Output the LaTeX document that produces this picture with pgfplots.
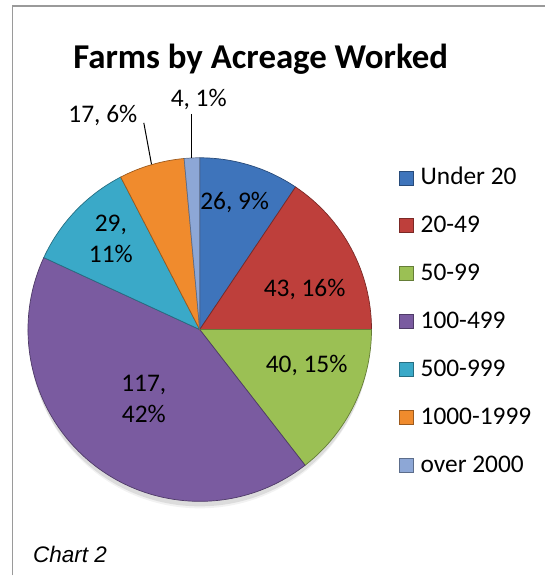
\documentclass[border=0pt]{standalone}
\usepackage{pgfplots}
\usepackage{pgfplotstable}
\pgfplotsset{compat=1.18}
\usepackage{fontspec}
\setmainfont{Carlito}
\newfontfamily\arialfont{Liberation Sans}
\definecolor{cA}{HTML}{3E74BB}
\definecolor{cB}{HTML}{BE3F3B}
\definecolor{cC}{HTML}{9BC054}
\definecolor{cD}{HTML}{7A5BA0}
\definecolor{cE}{HTML}{3AA9C8}
\definecolor{cF}{HTML}{F08B2D}
\definecolor{cG}{HTML}{8DA7D6}
\definecolor{framegray}{HTML}{9A9A9A}

\pgfplotstableread{
name value col
{Under 20} 26 cA
20-49 43 cB
50-99 40 cC
100-499 117 cD
500-999 29 cE
1000-1999 17 cF
{over 2000} 4 cG
}\piedata

\begin{document}
\begin{tikzpicture}
\begin{axis}[hide axis, scale only axis, width=546bp, height=576bp,
  xmin=0, xmax=546, ymin=0, ymax=576, clip=false]
% frame (top and left edges)
\draw[framegray, line width=1.5bp] (axis cs:12.5,0) -- (axis cs:12.5,570) -- (axis cs:546,570);
% title
\node[anchor=base, font=\fontsize{35}{42}\selectfont\bfseries] at (axis cs:261,507) {Farms by Acreage Worked};
% soft shadow (below the pie)
\fill[black, opacity=0.05] (axis cs:200,237) circle[radius=170bp];
\fill[black, opacity=0.09] (axis cs:200,240) circle[radius=171bp];
% pie slices from table
\pgfplotstablegetrowsof{\piedata}
\pgfmathtruncatemacro{\lastrow}{\pgfplotsretval-1}
\def\total{0}
\pgfplotsforeachungrouped \i in {0,...,\lastrow}{%
  \pgfplotstablegetelem{\i}{value}\of\piedata
  \pgfmathsetmacro{\total}{\total+\pgfplotsretval}%
  \xdef\total{\total}%
}
\def\cum{0}
\pgfplotsforeachungrouped \i in {0,...,\lastrow}{%
  \pgfplotstablegetelem{\i}{value}\of\piedata \let\v=\pgfplotsretval
  \pgfplotstablegetelem{\i}{col}\of\piedata \let\c=\pgfplotsretval
  \pgfplotstablegetelem{\i}{name}\of\piedata \let\n=\pgfplotsretval
  \pgfmathsetmacro{\fa}{\cum/\total}%
  \pgfmathsetmacro{\fb}{(\cum+\v)/\total}%
  \pgfmathsetmacro{\a}{90-360*\fa}%
  \pgfmathsetmacro{\b}{90-360*\fb}%
  \pgfmathsetmacro{\px}{200+172*cos(\a)}%
  \pgfmathsetmacro{\py}{246+172*sin(\a)}%
  \pgfmathsetmacro{\ly}{185+48*\i}%
  \pgfmathsetmacro{\ybot}{576-\ly}%
  \pgfmathsetmacro{\ytop}{590-\ly}%
  \edef\temp{%
    \noexpand\fill[\c, draw=\c!65!black, line width=0.7bp]
      (axis cs:200,246) -- (axis cs:\px,\py)
      arc[start angle=\a, end angle=\b, radius=172bp] -- cycle;
    \noexpand\fill[\c, draw=\c!65!black, line width=0.5bp]
      (axis cs:399.5,\ybot) rectangle (axis cs:413.5,\ytop);
    \noexpand\node[anchor=base west, inner sep=0pt, font=\noexpand\fontsize{25.5}{30}\noexpand\selectfont]
      at (axis cs:421,\ybot) {\n};
  }\temp
  \pgfmathsetmacro{\cum}{\cum+\v}%
  \xdef\cum{\cum}%
}
% data labels
\tikzset{lbl/.style={anchor=base, inner sep=0pt, font=\fontsize{25.5}{30}\selectfont}}
\node[lbl] at (axis cs:235,366) {26, 9\%};
\node[lbl] at (axis cs:305,279) {43, 16\%};
\node[lbl] at (axis cs:307,203) {40, 15\%};
\node[lbl] at (axis cs:144,184) {117,};
\node[lbl] at (axis cs:144,153) {42\%};
\node[lbl] at (axis cs:111,344) {29,};
\node[lbl] at (axis cs:111,313) {11\%};
\node[lbl] at (axis cs:103,453) {17, 6\%};
\node[lbl] at (axis cs:199,469) {4, 1\%};
% leader lines
\draw[black, line width=1bp] (axis cs:144,453) -- (axis cs:151.7,411.5);
\draw[black, line width=1bp] (axis cs:192.2,462) -- (axis cs:192.2,418);
% footnote
\node[anchor=base west, inner sep=0pt, font=\arialfont\itshape\fontsize{22.6}{27}\selectfont] at (axis cs:33,13) {Chart 2};
\end{axis}
\path (0,0) rectangle (546bp,576bp);
\end{tikzpicture}
\end{document}
